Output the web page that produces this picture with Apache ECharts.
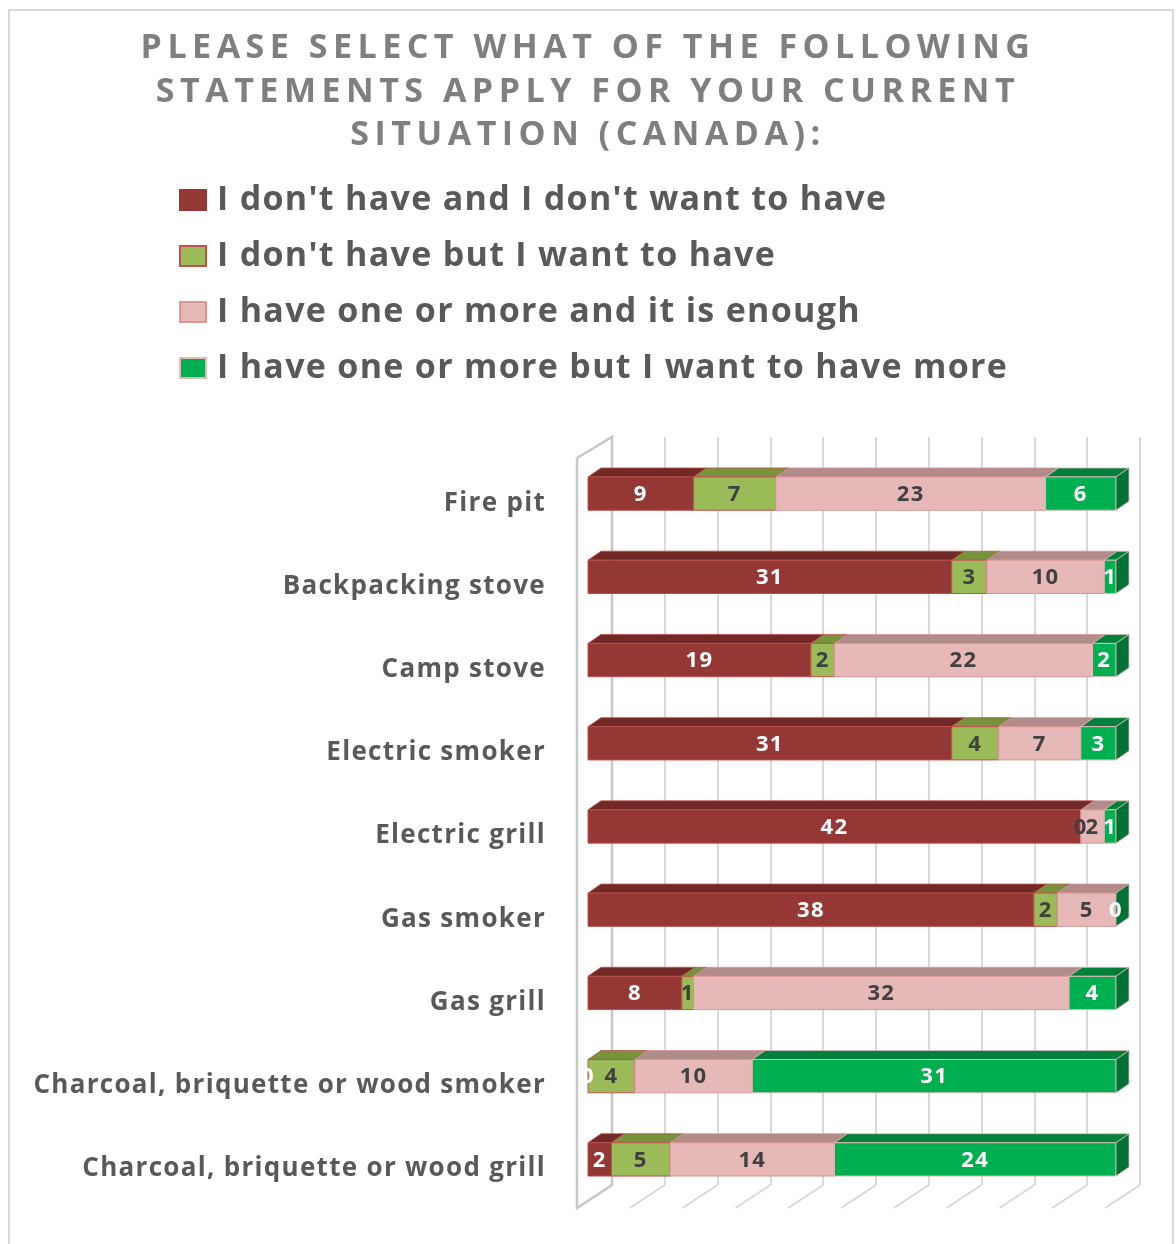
<!DOCTYPE html>
<html>
<head>
<meta charset="utf-8">
<script src="https://cdn.jsdelivr.net/npm/echarts@6/dist/echarts.min.js"></script>
<style>
  html, body { margin: 0; padding: 0; background: #fff; }
  #chart { width: 1176px; height: 1244px; }
</style>
</head>
<body>
<div id="chart"></div>
<script>
// Survey items (top to bottom)
const categories = [
  'Fire pit',
  'Backpacking stove',
  'Camp stove',
  'Electric smoker',
  'Electric grill',
  'Gas smoker',
  'Gas grill',
  'Charcoal, briquette or wood smoker',
  'Charcoal, briquette or wood grill'
];

const seriesNames = [
  "I don't have and I don't want to have",
  "I don't have but I want to have",
  'I have one or more and it is enough',
  'I have one or more but I want to have more'
];

// Respondent counts per answer
const dontHaveDontWant = [9, 31, 19, 31, 42, 38, 8, 0, 2];
const dontHaveButWant  = [7, 3, 2, 4, 0, 2, 1, 4, 5];
const haveEnough       = [23, 10, 22, 7, 2, 5, 32, 10, 14];
const haveWantMore     = [6, 1, 2, 3, 1, 0, 4, 31, 24];

// Respondents per item (100% of each bar)
const respondentsPerItem = 45;

const titleLines = [
  'PLEASE SELECT WHAT OF THE FOLLOWING',
  'STATEMENTS APPLY FOR YOUR CURRENT',
  'SITUATION (CANADA):'
];

const seriesValues = [dontHaveDontWant, dontHaveButWant, haveEnough, haveWantMore];

const palette = [
  { front: '#953735', top: '#722826', border: '#b9504d', label: '#ffffff', legendBorder: '#953735' },
  { front: '#9bbb59', top: '#77933c', border: '#c0504d', label: '#404040', legendBorder: '#c0504d' },
  { front: '#e6b9b8', top: '#b08b8a', border: '#d99694', label: '#404040', legendBorder: '#d99694' },
  { front: '#00b050', top: '#00803a', border: '#e6b9b8', label: '#ffffff', legendBorder: '#e6b9b8', side: '#007233' }
];

// Letter tracking per text run (canvas letterSpacing)
const tracking = new Map();
titleLines.forEach(t => tracking.set(t, '5.5px'));
seriesNames.forEach(t => tracking.set(t, '1.3px'));
categories.forEach(t => tracking.set(t, '1.3px'));
const nativeFillText = CanvasRenderingContext2D.prototype.fillText;
CanvasRenderingContext2D.prototype.fillText = function (text, x, y, maxWidth) {
  const spacing = tracking.get(text);
  if (spacing && 'letterSpacing' in this) {
    const prev = this.letterSpacing;
    this.letterSpacing = spacing;
    nativeFillText.apply(this, arguments);
    this.letterSpacing = prev;
    return;
  }
  return nativeFillText.apply(this, arguments);
};

// Oblique depth of the bars and of the floor
const BAR_DX = 13, BAR_DY = 9;
const FLOOR_DX = -35, FLOOR_DY = 23;
const FONT = '"Open Sans", "Noto Sans", sans-serif';

function barSeries(idx) {
  const pal = palette[idx];
  const isLast = idx === seriesValues.length - 1;
  const data = categories.map((c, i) => {
    let start = 0;
    for (let k = 0; k < idx; k++) start += seriesValues[k][i];
    const v = seriesValues[idx][i];
    return [i, start, start + v, v];
  });
  return {
    type: 'custom',
    name: seriesNames[idx],
    xAxisIndex: 0,
    yAxisIndex: 0,
    itemStyle: { color: pal.front, borderColor: pal.legendBorder, borderWidth: 2 },
    encode: { x: [1, 2], y: 0 },
    data: data,
    renderItem: function (params, api) {
      const cat = api.value(0);
      const p0 = api.coord([api.value(1), cat]);
      const p1 = api.coord([api.value(2), cat]);
      const h = api.size([0, 1])[1] * 0.4;
      const yT = p0[1] - h / 2;
      const yB = p0[1] + h / 2;
      const w = p1[0] - p0[0];
      const children = [];
      if (w > 0) {
        children.push({
          type: 'polygon',
          shape: { points: [[p0[0], yT], [p1[0], yT], [p1[0] + BAR_DX, yT - BAR_DY], [p0[0] + BAR_DX, yT - BAR_DY]] },
          style: { fill: pal.top, stroke: pal.border, lineWidth: 0.8 }
        });
        children.push({
          type: 'rect',
          shape: { x: p0[0], y: yT, width: w, height: h },
          style: { fill: pal.front, stroke: pal.border, lineWidth: 1 }
        });
      }
      if (isLast) {
        children.push({
          type: 'polygon',
          shape: { points: [[p1[0], yT], [p1[0] + BAR_DX, yT - BAR_DY], [p1[0] + BAR_DX, yB - BAR_DY], [p1[0], yB]] },
          style: { fill: pal.side, stroke: pal.border, lineWidth: 0.8 }
        });
      }
      children.push({
        type: 'text',
        z2: 100,
        style: {
          text: String(api.value(3)),
          x: (p0[0] + p1[0]) / 2,
          y: p0[1] + 1,
          align: 'center',
          verticalAlign: 'middle',
          fill: pal.label,
          font: 'bold 22px ' + FONT
        }
      });
      return { type: 'group', children: children };
    }
  };
}

// Gridline positions on the back wall (every 10% of the bar)
const wallTicks = [];
for (let k = 0; k <= 10; k++) wallTicks.push(k * respondentsPerItem / 10);

const frameSeries = {
  type: 'custom',
  name: 'frame',
  xAxisIndex: 1,
  yAxisIndex: 1,
  silent: true,
  z: 1,
  data: wallTicks.map(v => [v]),
  renderItem: function (params, api) {
    const v = api.value(0);
    const b = api.coord([v, 0]);
    const children = [{
      type: 'line',
      shape: { x1: b[0], y1: b[1], x2: b[0] + FLOOR_DX, y2: b[1] + FLOOR_DY },
      style: { stroke: '#d9d9d9', lineWidth: 2 }
    }];
    if (params.dataIndex === 0) {
      const t = api.coord([v, 1]);
      children.push({
        type: 'polyline',
        shape: { points: [[t[0] + FLOOR_DX, t[1] + 21], [t[0], t[1]], [b[0], b[1]], [b[0] + FLOOR_DX, b[1] + FLOOR_DY], [t[0] + FLOOR_DX, t[1] + 21]] },
        style: { stroke: '#c8c8c8', lineWidth: 2.5, fill: null }
      });
    }
    return { type: 'group', children: children };
  }
};

const chart = echarts.init(document.getElementById('chart'), null, { renderer: 'canvas' });

chart.setOption({
  backgroundColor: '#ffffff',
  animation: false,
  graphic: [{
    type: 'rect',
    silent: true,
    shape: { x: 9, y: 10, width: 1164, height: 1250 },
    style: { fill: null, stroke: '#d9d9d9', lineWidth: 2 }
  }],
  title: {
    text: titleLines.join('\n'),
    left: 'center',
    top: 22,
    textStyle: {
      fontFamily: FONT,
      fontWeight: 'bold',
      fontSize: 34,
      lineHeight: 43.5,
      color: '#7f7f7f'
    }
  },
  legend: {
    orient: 'vertical',
    left: 174,
    top: 175,
    itemWidth: 26,
    itemHeight: 20,
    itemGap: 16,
    icon: 'rect',
    selectedMode: false,
    data: seriesNames.map((n, i) => ({
      name: n,
      itemStyle: { color: palette[i].front, borderColor: palette[i].legendBorder, borderWidth: 2 }
    })),
    textStyle: {
      fontFamily: FONT,
      fontWeight: 'bold',
      fontSize: 34,
      lineHeight: 40,
      color: '#595959',
      padding: [0, 0, 0, 6]
    }
  },
  grid: [
    { left: 588, top: 452, width: 528, height: 749 },
    { left: 612, top: 437, width: 528, height: 748 }
  ],
  xAxis: [
    { type: 'value', gridIndex: 0, min: 0, max: respondentsPerItem, show: false },
    {
      type: 'value', gridIndex: 1, min: 0, max: respondentsPerItem, interval: respondentsPerItem / 10,
      axisLabel: { show: false }, axisLine: { show: false }, axisTick: { show: false },
      splitLine: { show: true, lineStyle: { color: '#d9d9d9', width: 2 } }
    }
  ],
  yAxis: [
    {
      type: 'category', gridIndex: 0, inverse: true, data: categories,
      axisLine: { show: false }, axisTick: { show: false },
      axisLabel: {
        margin: 42,
        fontFamily: FONT,
        fontWeight: 'bold',
        fontSize: 26,
        color: '#595959',
        verticalAlign: 'top',
        lineHeight: 19
      }
    },
    { type: 'value', gridIndex: 1, min: 0, max: 1, show: false }
  ],
  series: [frameSeries].concat(seriesValues.map((v, i) => barSeries(i)))
});
</script>
</body>
</html>
